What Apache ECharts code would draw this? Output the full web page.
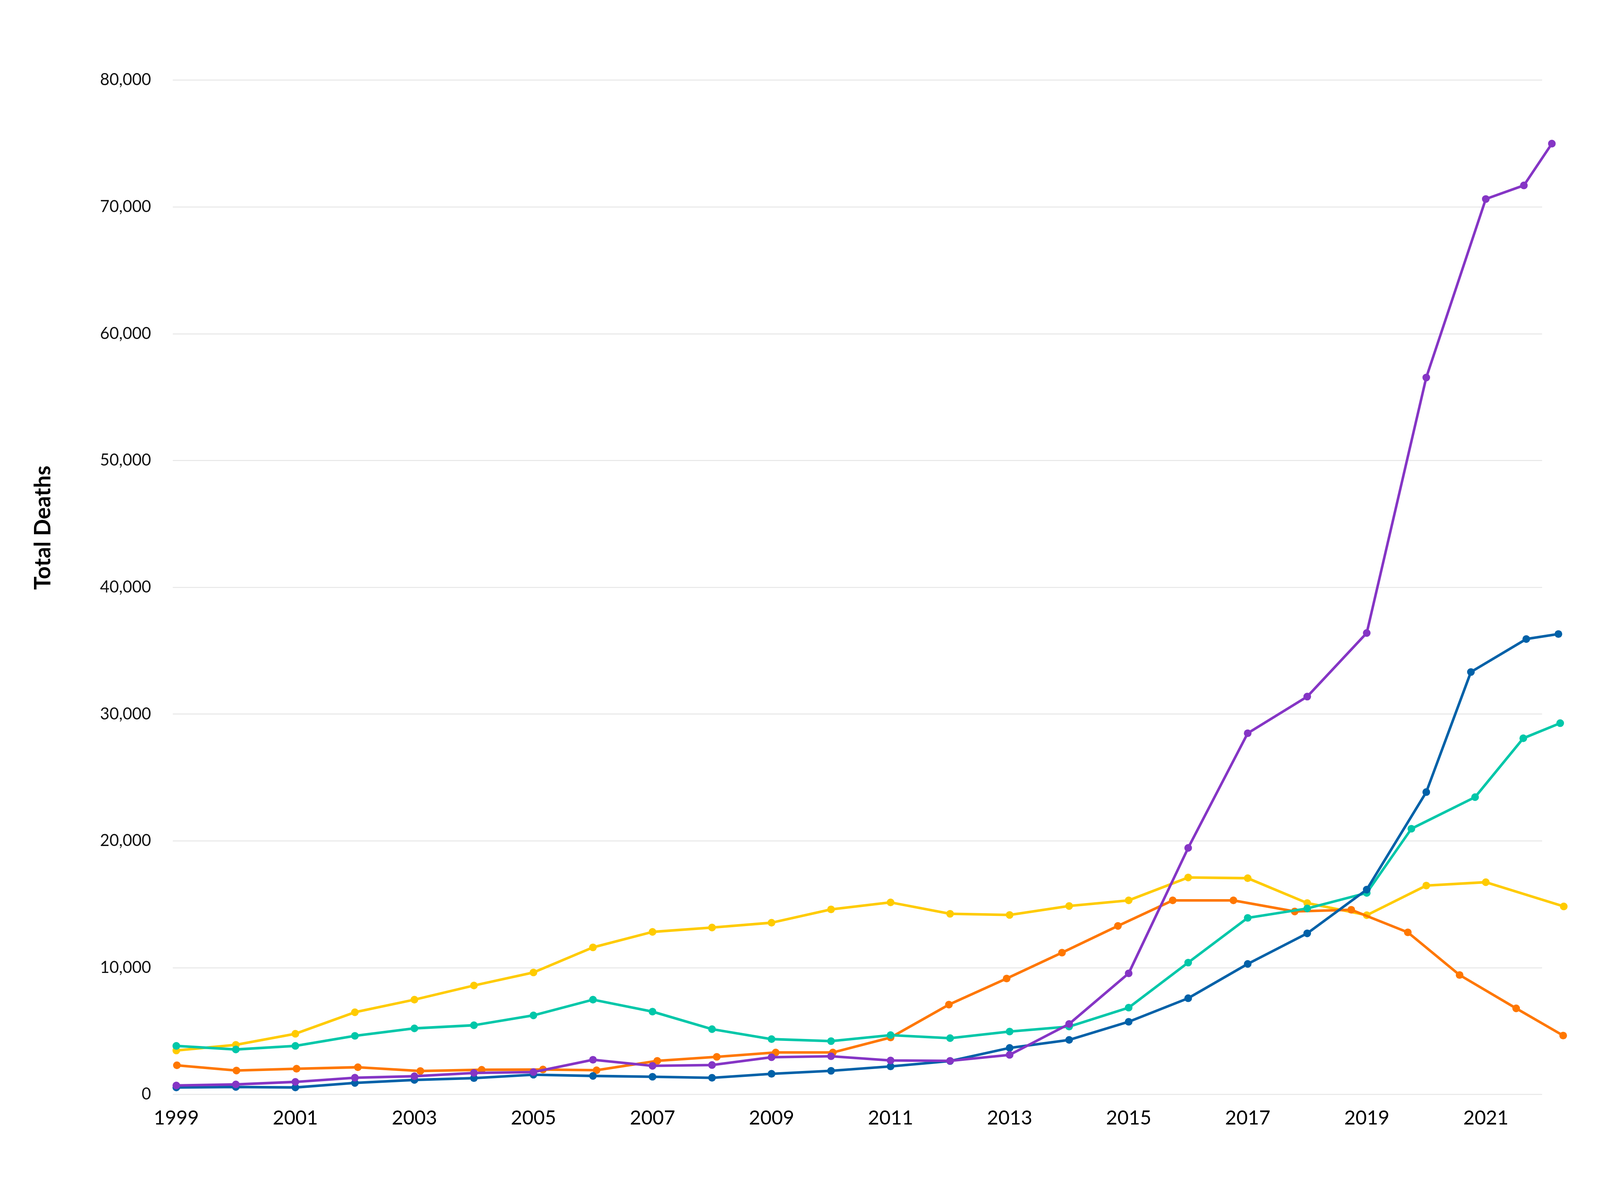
<!DOCTYPE html>
<html>
<head>
<meta charset="utf-8">
<script src="https://cdn.jsdelivr.net/npm/echarts@6/dist/echarts.min.js"></script>
<style>
  html, body { margin: 0; padding: 0; background: #ffffff; overflow: hidden; width: 100%; height: 100%; }
  #chart { width: 100vw; height: 100vh; }
</style>
</head>
<body>
<div id="chart"></div>
<script>
// ---- Data (x in years, y = total deaths) ----
const xTickLabels = [1999, 2001, 2003, 2005, 2007, 2009, 2011, 2013, 2015, 2017, 2019, 2021];
const yTicks = [0, 10000, 20000, 30000, 40000, 50000, 60000, 70000, 80000];

const yellowX = [1999,2000,2001,2002,2003,2004,2005,2006,2007,2008,2009,2010,2011,2012,2013,2014,2015,2016,2017,2018,2019,2020,2021,2022.31];
const yellowY = [3466,3912,4784,6482,7474,8592,9618,11599,12819,13164,13543,14593,15145,14248,14156,14861,15305,17110,17055,15092,14137,16472,16738,14827];

const orangeX = [1999.01,2000.01,2001.02,2002.05,2003.10,2004.13,2005.16,2006.06,2007.08,2008.08,2009.07,2010.03,2011.00,2011.98,2012.95,2013.88,2014.82,2015.74,2016.76,2017.79,2018.74,2019.69,2020.56,2021.51,2022.30];
const orangeY = [2298,1885,2027,2144,1848,1944,1966,1907,2649,2964,3309,3309,4489,7083,9140,11183,13290,15305,15305,14430,14563,12785,9418,6790,4643];

const tealX = [1999,2000,2001,2002,2003,2004,2005,2006,2007,2008,2009,2010,2011,2012,2013,2014,2015,2016,2017,2018,2019,2019.75,2020.82,2021.63,2022.25];
const tealY = [3829,3546,3829,4621,5210,5456,6235,7474,6531,5148,4362,4205,4677,4439,4960,5351,6845,10397,13925,14667,15890,20955,23447,28090,29282];

const blueX = [1999,2000,2001,2002,2003,2004,2005,2006,2007,2008,2009,2010,2011,2012,2013,2014,2015,2016,2017,2018,2019,2020,2020.75,2021.68,2022.22];
const blueY = [551,588,551,906,1143,1285,1556,1460,1393,1312,1627,1864,2209,2634,3669,4301,5730,7588,10293,12705,16155,23845,33315,35915,36312];

const purpleX = [1999,2000,2001,2002,2003,2004,2005,2006,2007,2008,2009,2010,2011,2012,2013,2014,2015,2016,2017,2018,2019,2020,2021,2021.64,2022.11];
const purpleY = [706,789,989,1319,1436,1697,1765,2733,2255,2320,2933,3010,2680,2649,3121,5558,9550,19443,28487,31377,36393,56543,70620,71692,74988];

const yAxisTitle = 'Total Deaths';

// ---- Build ----
(function () {
  function pairs(xs, ys) { return xs.map((x, i) => [x, ys[i]]); }

  const el = document.getElementById('chart');
  const W = el.clientWidth || window.innerWidth;
  const H = el.clientHeight || window.innerHeight;
  const sx = W / 5000, sy = H / 3039, s = Math.min(sx, sy);

  const FONT = 'Lato, "Open Sans", sans-serif';
  const X_MIN = 1998.941;      // left end of gridlines
  const X_MAX_GRID = 2021.944; // right end of gridlines
  const X_MAX_DATA = 2022.435; // data area extends past the gridlines

  function lineSeries(xs, ys, color, z) {
    return {
      type: 'line',
      xAxisIndex: 0,
      yAxisIndex: 0,
      data: pairs(xs, ys),
      symbol: 'circle',
      symbolSize: 24 * s,
      showSymbol: true,
      clip: false,
      z: z,
      lineStyle: { color: color, width: 8 * s },
      itemStyle: { color: color, borderWidth: 0 },
      emphasis: { disabled: true }
    };
  }

  const chart = echarts.init(el, null, { renderer: 'canvas', width: W, height: H });

  const gTop = 205 * sy, gBottom = 237 * sy, gLeft = 540 * sx;

  chart.setOption({
    animation: false,
    backgroundColor: '#ffffff',
    grid: [
      { left: gLeft, right: 90 * sx, top: gTop, bottom: gBottom },
      { left: gLeft, right: 181 * sx, top: gTop, bottom: gBottom }
    ],
    xAxis: [
      { type: 'value', gridIndex: 0, min: X_MIN, max: X_MAX_DATA, show: false },
      {
        type: 'value',
        gridIndex: 1,
        min: X_MIN,
        max: X_MAX_GRID,
        axisLine: { show: false },
        axisTick: { show: false },
        splitLine: { show: false },
        axisLabel: {
          customValues: xTickLabels,
          formatter: v => String(v),
          fontFamily: FONT,
          fontSize: 61 * s,
          color: '#000',
          margin: 36 * sy
        }
      }
    ],
    yAxis: [
      { type: 'value', gridIndex: 0, min: yTicks[0], max: yTicks[yTicks.length - 1], show: false },
      {
        type: 'value',
        gridIndex: 1,
        min: yTicks[0],
        max: yTicks[yTicks.length - 1],
        interval: yTicks[1] - yTicks[0],
        axisLine: { show: false },
        axisTick: { show: false },
        splitLine: { show: true, lineStyle: { color: '#e6e6e6', width: 3 * s } },
        axisLabel: {
          formatter: v => v.toLocaleString('en-US'),
          fontFamily: FONT,
          fontSize: 51 * s,
          color: '#111',
          margin: 68 * sx
        }
      }
    ],
    graphic: [{
      type: 'text',
      x: 135 * sx,
      y: 1351 * sy,
      rotation: Math.PI / 2,
      style: {
        text: yAxisTitle,
        font: 'bold ' + Math.round(70 * s) + 'px Lato, "Open Sans", sans-serif',
        fill: '#000',
        align: 'center',
        verticalAlign: 'middle',
        textAlign: 'center',
        textVerticalAlign: 'middle'
      }
    }],
    series: [
      lineSeries(yellowX, yellowY, '#FFCB00', 2),
      lineSeries(orangeX, orangeY, '#FF7700', 3),
      lineSeries(tealX, tealY, '#00C7A9', 4),
      lineSeries(blueX, blueY, '#0061A8', 5),
      lineSeries(purpleX, purpleY, '#8535C5', 6)
    ]
  });
})();
</script>
</body>
</html>
